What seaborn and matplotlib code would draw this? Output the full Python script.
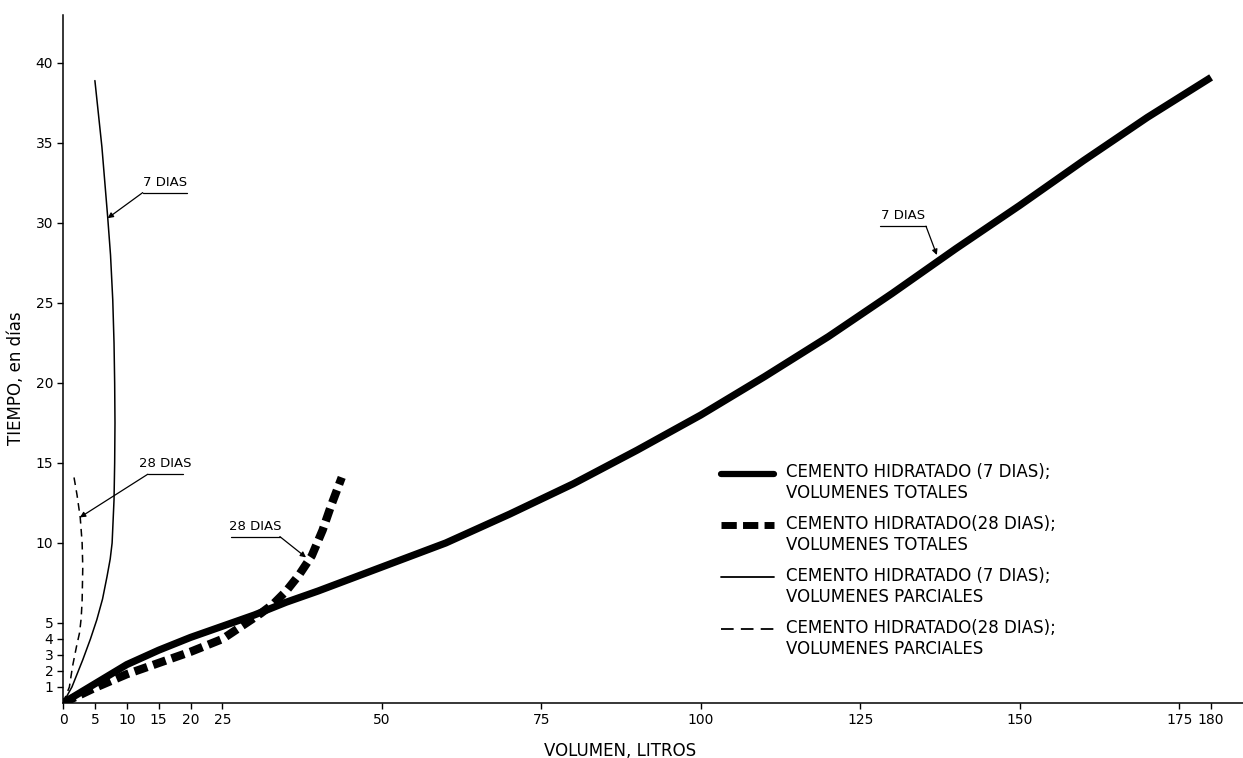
import matplotlib
matplotlib.use("Agg")
import matplotlib.pyplot as plt
import seaborn as sns
import pandas as pd
from matplotlib.lines import Line2D
from matplotlib.legend_handler import HandlerLine2D

# ---------------- data ----------------
# Cemento hidratado 7 dias, volumenes totales (thick solid)
tot7_x = [0, 5, 10, 15, 20, 25, 30, 35, 40, 50, 60, 70, 80, 90, 100, 110, 120, 130, 140, 150, 160, 170, 180]
tot7_y = [0, 1.2, 2.4, 3.3, 4.1, 4.8, 5.5, 6.3, 7.0, 8.5, 10.0, 11.8, 13.7, 15.8, 18.0, 20.4, 22.9, 25.6, 28.4, 31.1, 33.9, 36.6, 39.1]

# Cemento hidratado 28 dias, volumenes totales (thick dashed)
tot28_x = [0, 5, 10, 15, 20, 25, 28, 31, 33, 35, 37, 39, 40.7, 42, 43.7]
tot28_y = [0, 0.95, 1.8, 2.5, 3.2, 4.0, 4.8, 5.6, 6.2, 7.0, 8.0, 9.2, 10.8, 12.3, 14.1]

# Cemento hidratado 7 dias, volumenes parciales (thin solid)
par7_x = [0, 1.4, 3.1, 4.3, 5.3, 6.2, 6.9, 7.4, 7.7, 8.0, 8.1, 8.15, 8.1, 8.0, 7.8, 7.45, 7.0, 6.1, 5.0]
par7_y = [0, 1.0, 2.7, 4.0, 5.2, 6.5, 7.9, 9.0, 10.0, 12.7, 15.0, 17.5, 20.0, 22.5, 25.2, 28.0, 30.4, 34.75, 38.9]

# Cemento hidratado 28 dias, volumenes parciales (thin dashed)
par28_x = [0, 1.0, 1.5, 2.1, 2.6, 2.85, 3.0, 3.1, 3.0, 2.7, 2.2, 1.6]
par28_y = [0, 1.0, 2.3, 3.5, 4.4, 5.3, 6.4, 8.5, 10.0, 11.6, 13.0, 14.4]

series_labels = [
    "CEMENTO HIDRATADO (7 DIAS);\nVOLUMENES TOTALES",
    "CEMENTO HIDRATADO(28 DIAS);\nVOLUMENES TOTALES",
    "CEMENTO HIDRATADO (7 DIAS);\nVOLUMENES PARCIALES",
    "CEMENTO HIDRATADO(28 DIAS);\nVOLUMENES PARCIALES",
]

x_ticks = [0, 5, 10, 15, 20, 25, 50, 75, 100, 125, 150, 175, 180]
y_ticks = [1, 2, 3, 4, 5, 10, 15, 20, 25, 30, 35, 40]

# annotations: text, underline start x, underline end x, underline y, tip x, tip y
annots = [
    ("7 DIAS", 12.5, 19.5, 31.9, 7.0, 30.3),
    ("28 DIAS", 13.3, 18.8, 14.3, 2.65, 11.6),
    ("28 DIAS", 26.4, 34.0, 10.4, 38.1, 9.1),
    ("7 DIAS", 128.1, 135.3, 29.8, 137.0, 28.0),
]

# ---------------- style ----------------
sns.set_theme(style="white")
FONT = ["DejaVu Sans"]
plt.rcParams["font.family"] = FONT
plt.rcParams["text.color"] = "black"
plt.rcParams["axes.labelcolor"] = "black"
plt.rcParams["xtick.color"] = "black"
plt.rcParams["ytick.color"] = "black"

fig = plt.figure(figsize=(12.43, 7.58), dpi=100)
ax = fig.add_axes([63 / 1243, 55 / 758, 1180 / 1243, 688 / 758])

def mk(xs, ys):
    return pd.DataFrame({"x": xs, "y": ys})

sns.lineplot(data=mk(tot7_x, tot7_y), x="x", y="y", sort=False, estimator=None,
             color="black", lw=5.2, ax=ax, solid_capstyle="butt")
sns.lineplot(data=mk(tot28_x, tot28_y), x="x", y="y", sort=False, estimator=None,
             color="black", lw=6, ax=ax, dashes=False, linestyle=(0, (1.6, 0.75)))
sns.lineplot(data=mk(par7_x, par7_y), x="x", y="y", sort=False, estimator=None,
             color="black", lw=1.1, ax=ax)
sns.lineplot(data=mk(par28_x, par28_y), x="x", y="y", sort=False, estimator=None,
             color="black", lw=1.1, ax=ax, dashes=False, linestyle=(0, (5, 3.5)))

ax.set_xlim(0, 185)
ax.set_ylim(0, 43)
ax.set_xticks(x_ticks)
ax.set_xticklabels([str(t) for t in x_ticks], fontsize=10)
ax.set_yticks(y_ticks)
ax.set_yticklabels([str(t) for t in y_ticks], fontsize=10)
ax.tick_params(direction="out", length=4, width=1, colors="black", pad=3,
               bottom=True, left=True)
for s in ["top", "right"]:
    ax.spines[s].set_visible(False)
for s in ["left", "bottom"]:
    ax.spines[s].set_color("black")
    ax.spines[s].set_linewidth(1.1)

ax.set_xlabel("VOLUMEN, LITROS", fontsize=12, color="black")
ax.set_ylabel("TIEMPO, en días", fontsize=12, color="black")
ax.xaxis.set_label_coords(0.472, -0.057)
ax.yaxis.set_label_coords(-0.032, 0.472)

for txt, x0, x1, yu, tx, ty in annots:
    ax.plot([x0, x1], [yu, yu], color="black", lw=0.9)
    ax.text((x0 + x1) / 2, yu + 0.25, txt, ha="center", va="bottom", fontsize=9.5,
            color="black")
    ax.annotate("", xy=(tx, ty), xytext=(x1 if tx > x1 else x0, yu),
                arrowprops=dict(arrowstyle="-|>", color="black", lw=0.9,
                                mutation_scale=8, shrinkA=0, shrinkB=0))


class UpHandler(HandlerLine2D):
    def create_artists(self, legend, orig_handle, xdescent, ydescent, width,
                       height, fontsize, trans):
        return super().create_artists(legend, orig_handle, xdescent, ydescent - 15,
                                      width, height, fontsize, trans)


handles = [
    Line2D([], [], color="black", lw=4.5),
    Line2D([], [], color="black", lw=5, linestyle=(0, (2.2, 0.9))),
    Line2D([], [], color="black", lw=1.3),
    Line2D([], [], color="black", lw=1.3, linestyle=(0, (7, 4))),
]
leg = ax.legend(handles, series_labels, loc="upper left", bbox_to_anchor=(0.545, 0.37),
                frameon=False, fontsize=12, handlelength=3.2, handletextpad=0.7,
                labelspacing=0.78, handler_map={Line2D: UpHandler()})
for t in leg.get_texts():
    t.set_color("black")

fig.savefig("out.png", dpi=100)
